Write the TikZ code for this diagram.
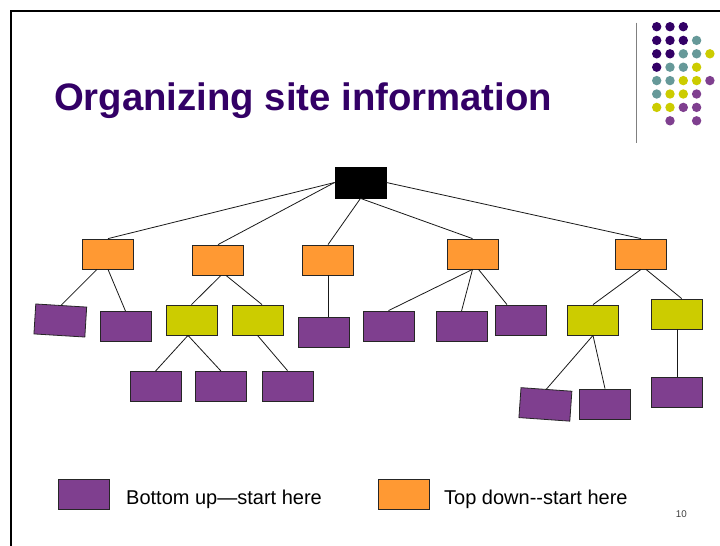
\documentclass[tikz,border=0pt]{standalone}
\usepackage{fontspec}
\setmainfont{Liberation Sans}
\usetikzlibrary{calc}
\definecolor{dP}{HTML}{330066}
\definecolor{bP}{HTML}{7F3F8F}
\definecolor{bO}{HTML}{FF9933}
\definecolor{bY}{HTML}{CCCC00}
\definecolor{tT}{HTML}{669999}
\begin{document}
\begin{tikzpicture}[x=1pt,y=-1pt,
  box/.style={draw=black!85, line width=0.8pt, minimum width=51pt, minimum height=30pt, inner sep=0pt},
  pbox/.style={box, fill=bP},
  obox/.style={box, fill=bO},
  ybox/.style={box, fill=bY},
  rootbox/.style={box, fill=black, draw=black, minimum height=31pt},
  conn/.style={line width=0.8pt, draw=black!90},
  legtext/.style={anchor=base west, inner sep=0pt, font=\fontsize{20}{24}\selectfont},
]
\useasboundingbox (0,0) rectangle (720,546);
\fill[white] (0,0) rectangle (720,546);
% slide frame
\draw[line width=2pt] (11,546) -- (11,11) -- (720,11);
% decorative dots and rule
\draw[line width=1.3pt, gray] (636.7,22.7) -- (636.7,143);
\foreach \yy/\row in {26.7/{dP,dP,dP}, 40.4/{dP,dP,dP,tT}, 53.8/{dP,dP,tT,tT,bY}, 67.2/{dP,tT,tT,bY}, 80.6/{tT,tT,bY,bY,bP}, 94/{tT,bY,bY,bP}, 107.4/{bY,bY,bP,bP}}{
  \foreach \cc [count=\i from 0] in \row {
    \fill[\cc] (656.7+13.3*\i, \yy) circle (4.7pt);
  }
}
\fill[bP] (670,120.8) circle (4.7pt);
\fill[bP] (696.6,120.8) circle (4.7pt);
% title
\node[anchor=base west, text=dP, font=\fontsize{38.3}{40}\selectfont\bfseries, inner sep=0pt] (title) at (54,110.3) {Organizing site information};
% tree nodes
\node[rootbox] (R) at (360.5,182.5) {};
\node[obox] (O1) at (108,254) {};
\node[obox] (O2) at (218,260) {};
\node[obox] (O3) at (328,260) {};
\node[obox] (O4) at (472.5,254) {};
\node[obox] (O5) at (641,254) {};
\node[pbox, rotate=-3.5] (P1) at (60.3,320.5) {};
\node[pbox] (P2) at (125.5,326.5) {};
\node[ybox] (Y1) at (191.5,320) {};
\node[ybox] (Y2) at (257.5,320) {};
\node[pbox] (P3) at (323.5,332) {};
\node[pbox] (P4) at (388.5,326) {};
\node[pbox] (P5) at (461.5,326.5) {};
\node[pbox] (P6) at (521,320) {};
\node[ybox] (Y3) at (593,320) {};
\node[ybox] (Y4) at (677,314) {};
\node[pbox] (P7) at (155.5,386.5) {};
\node[pbox] (P8) at (221,386.5) {};
\node[pbox] (P9) at (287.5,386) {};
\node[pbox, rotate=-4] (P10) at (545.4,404.4) {};
\node[pbox] (P11) at (605,404) {};
\node[pbox] (P12) at (677,392) {};
% connectors
\draw[conn] (R.west) -- (O1.north);
\draw[conn] (R.west) -- (O2.north);
\draw[conn] (R.south) -- (O3.north);
\draw[conn] (R.south) -- (O4.north);
\draw[conn] (R.east) -- (O5.north);
\draw[conn] ($(O1.south)+(-11,0)$) -- (P1.north);
\draw[conn] (O1.south) -- (P2.north);
\draw[conn] ($(O2.south)+(3,0)$) -- (Y1.north);
\draw[conn] ($(O2.south)+(8,0)$) -- ($(Y2.north)+(4.5,0)$);
\draw[conn] (O3.south) -- (O3.south |- P3.north);
\draw[conn] ($(Y1.south)+(-3.5,0)$) -- (P7.north);
\draw[conn] ($(Y1.south)+(-3.5,0)$) -- (P8.north);
\draw[conn] (Y2.south) -- (P9.north);
\draw[conn] (O4.south) -- (P4.north);
\draw[conn] (O4.south) -- (P5.north);
\draw[conn] ($(O4.south)+(6,0)$) -- ($(P6.north)+(-14,0)$);
\draw[conn] (O5.south) -- (Y3.north);
\draw[conn] ($(O5.south)+(5,0)$) -- ($(Y4.north)+(4.7,0)$);
\draw[conn] (Y3.south) -- (P10.north);
\draw[conn] (Y3.south) -- (P11.north);
\draw[conn] (Y4.south) -- (P12.north);
% legend
\node[pbox, minimum height=30.7pt] (LP) at (84.2,494.4) {};
\node[obox, minimum height=30.7pt] (LO) at (403.7,494.4) {};
\node[legtext] (LPt) at (126,504) {Bottom up—start here};
\node[legtext] (LOt) at (444,504) {Top down{-}{-}start here};
% page number
\node[font=\fontsize{9.8}{10}\selectfont, text=black!75, inner sep=0pt] (pn) at (681.3,514.2) {10};
\end{tikzpicture}
\end{document}
